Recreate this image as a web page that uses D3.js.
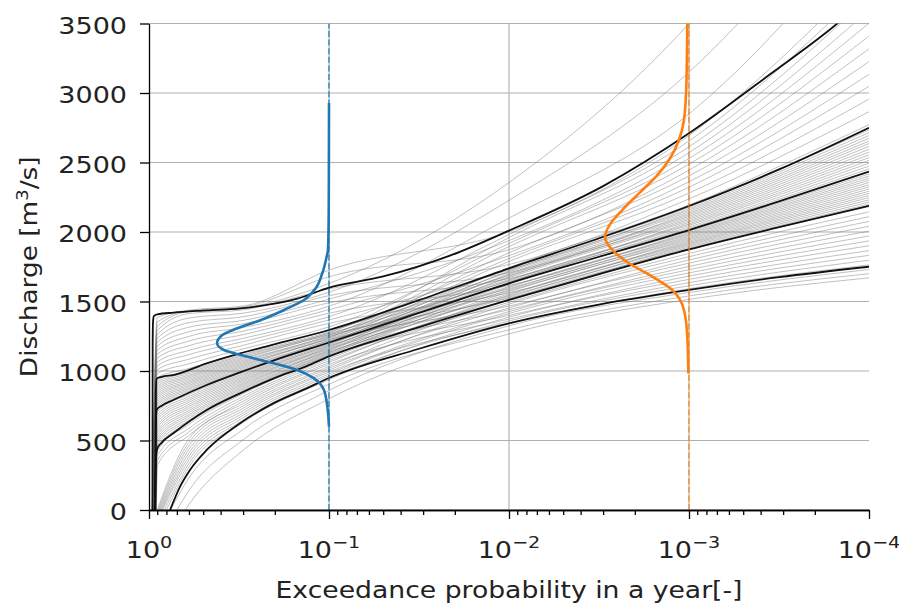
<!DOCTYPE html>
<html>
<head>
<meta charset="utf-8">
<script src="https://cdn.jsdelivr.net/npm/d3@7"></script>
<style>
  body { margin: 0; background: #fff; }
  text { font-family: "DejaVu Sans", sans-serif; fill: #222; }
</style>
</head>
<body>
<div id="chart"></div>
<script>
// axis ticks
const X_MAJOR = [1, 1e-1, 1e-2, 1e-3, 1e-4];
const X_EXP = ['0', '\u22121', '\u22122', '\u22123', '\u22124'];
const Y_TICKS = [0, 500, 1000, 1500, 2000, 2500, 3000, 3500];

// probabilities at which the gray curves were read
const P_GRID = [0.9, 0.6, 0.3, 0.1, 0.01, 0.001, 0.0001];
// probability where each gray curve leaves the zero line
const GRAY_START = [
  0.96, 0.959, 0.958, 0.958, 0.957, 0.956, 0.956, 0.955, 0.954, 0.954, 0.953, 0.952, 0.952, 0.951, 0.95, 0.95,
  0.948, 0.947, 0.946, 0.945, 0.944, 0.943, 0.942, 0.941, 0.94, 0.94, 0.939, 0.938, 0.937, 0.936, 0.935, 0.934,
  0.933, 0.932, 0.931, 0.93, 0.929, 0.928, 0.927, 0.926, 0.925, 0.924, 0.923, 0.922, 0.921, 0.92, 0.919, 0.918,
  0.915, 0.912, 0.91, 0.9, 0.89, 0.88, 0.87, 0.86, 0.85, 0.84, 0.82, 0.8, 0.76, 0.7, 0.63
];
// discharge of each gray curve at P_GRID
const GRAY_Q = [
  [1384, 1438, 1467, 1726, 2002, 2694, 3866],
  [1352, 1433, 1460, 1678, 1873, 2445, 3318],
  [1320, 1428, 1454, 1630, 2356, 3500, 5200],
  [1290, 1413, 1440, 1591, 1766, 2238, 2865],
  [1262, 1381, 1416, 1567, 2228, 3150, 4600],
  [1234, 1348, 1390, 1542, 1707, 2135, 2654],
  [1206, 1315, 1364, 1517, 1938, 2571, 3594],
  [1178, 1282, 1339, 1491, 1665, 2069, 2535],
  [1149, 1249, 1313, 1466, 2100, 2850, 4200],
  [1121, 1215, 1287, 1441, 1830, 2361, 3134],
  [1093, 1182, 1261, 1416, 1616, 1996, 2403],
  [1064, 1149, 1235, 1391, 1982, 2655, 3778],
  [1037, 1118, 1211, 1367, 1727, 2168, 2715],
  [1009, 1085, 1185, 1343, 1562, 1934, 2293],
  [980, 1052, 1159, 1317, 1917, 2529, 3502],
  [952, 1018, 1133, 1292, 1686, 2102, 2595],
  [934, 1002, 1120, 1281, 1809, 2322, 3048],
  [920, 991, 1112, 1275, 1960, 2613, 3686],
  [906, 981, 1103, 1270, 1645, 2036, 2474],
  [892, 970, 1094, 1264, 1734, 2179, 2735],
  [879, 960, 1086, 1260, 1525, 1891, 2215],
  [865, 950, 1077, 1254, 1895, 2487, 3410],
  [851, 939, 1068, 1249, 1593, 1970, 2356],
  [837, 928, 1060, 1244, 1713, 2146, 2674],
  [823, 918, 1051, 1238, 1851, 2403, 3226],
  [809, 908, 1042, 1233, 1658, 2058, 2515],
  [795, 897, 1034, 1227, 1467, 1799, 2076],
  [780, 887, 1025, 1222, 1788, 2280, 2956],
  [767, 876, 1016, 1217, 1631, 2014, 2434],
  [753, 866, 1008, 1211, 1693, 2113, 2616],
  [739, 856, 999, 1206, 1744, 2194, 2772],
  [725, 845, 990, 1200, 1578, 1952, 2325],
  [706, 831, 980, 1194, 1672, 2080, 2555],
  [687, 816, 971, 1188, 1720, 2157, 2694],
  [669, 802, 961, 1182, 1540, 1909, 2247],
  [651, 788, 952, 1176, 1652, 2048, 2495],
  [632, 774, 942, 1170, 1700, 2124, 2636],
  [613, 759, 933, 1164, 1608, 1987, 2387],
  [595, 745, 923, 1158, 1509, 1873, 2184],
  [576, 731, 913, 1152, 1679, 2091, 2575],
  [557, 716, 904, 1146, 1638, 2025, 2454],
  [539, 702, 894, 1140, 1441, 1752, 2006],
  [520, 687, 884, 1134, 1585, 1961, 2340],
  [502, 674, 875, 1129, 1623, 2005, 2418],
  [484, 659, 865, 1122, 1555, 1925, 2278],
  [465, 645, 856, 1116, 1601, 1979, 2372],
  [446, 630, 846, 1110, 1400, 1683, 1901],
  [423, 616, 836, 1104, 1570, 1943, 2309],
  [389, 588, 817, 1088, 1532, 1900, 2231],
  [354, 562, 800, 1074, 1494, 1846, 2145],
  [320, 537, 783, 1061, 1547, 1917, 2262],
  [null, 513, 766, 1047, 1373, 1636, 1832],
  [null, 487, 749, 1033, 1517, 1882, 2200],
  [null, 462, 732, 1020, 1454, 1776, 2041],
  [null, 436, 715, 1006, 1481, 1822, 2110],
  [null, 410, 698, 993, 1346, 1592, 1763],
  [null, 386, 681, 979, 1427, 1729, 1971],
  [null, 360, 664, 966, 1414, 1706, 1936],
  [null, 334, 647, 952, 1360, 1613, 1797],
  [null, 310, 630, 938, 1387, 1659, 1866],
  [null, 230, 580, 905, 1296, 1540, 1700],
  [null, 140, 505, 860, 1325, 1565, 1730],
  [null, 40, 430, 800, 1267, 1515, 1670]
];

// black percentile curves: [probability, discharge]
const BLACK_1 = [[0.957, 0], [0.954, 1200], [0.95, 1350], [0.94, 1395], [0.9, 1408], [0.73, 1420], [0.5, 1435],
  [0.31, 1451], [0.15, 1520], [0.1, 1600], [0.05, 1680], [0.0213, 1830], [0.01, 2010], [0.003, 2330],
  [0.001, 2710], [0.00035, 3140], [0.00015, 3500], [0.0001, 3700]];
const BLACK_2 = [[0.928, 0], [0.916, 860], [0.906, 945], [0.85, 958], [0.733, 971], [0.478, 1055], [0.312, 1127],
  [0.204, 1190], [0.1, 1295], [0.0316, 1510], [0.01, 1739], [0.00316, 1955], [0.001, 2187], [0.000316, 2450], [0.0001, 2750]];
const BLACK_3 = [[0.925, 0], [0.913, 680], [0.904, 722], [0.85, 750], [0.733, 791], [0.478, 899], [0.312, 990],
  [0.204, 1075], [0.1, 1205], [0.0316, 1418], [0.01, 1631], [0.00316, 1822], [0.001, 2014], [0.000316, 2220], [0.0001, 2434]];
const BLACK_4 = [[0.922, 0], [0.912, 400], [0.9, 440], [0.85, 485], [0.733, 552], [0.478, 719], [0.312, 839],
  [0.204, 945], [0.133, 1035], [0.1, 1105], [0.0316, 1315], [0.01, 1511], [0.00316, 1697], [0.001, 1875], [0.000316, 2035], [0.0001, 2189]];
const BLACK_5 = [[0.764, 0], [0.672, 168], [0.592, 288], [0.478, 432], [0.312, 624], [0.204, 767], [0.133, 875],
  [0.1, 950], [0.0316, 1160], [0.01, 1343], [0.00316, 1478], [0.001, 1583], [0.000316, 1675], [0.0001, 1750]];

// sideways densities of discharge at p = 0.1 and p = 0.001
const BLUE_BASE = 0.1, BLUE_WIDTH = 0.622;   // width in decades at peak
const BLUE_Q = [600, 743, 863, 947, 1007, 1067, 1115, 1151, 1199, 1259, 1307, 1367, 1439, 1511, 1595, 1703, 1823, 1871, 2100, 2500, 2928];
const BLUE_D = [0, 0.015, 0.045, 0.134, 0.283, 0.551, 0.786, 0.938, 1, 0.953, 0.819, 0.607, 0.402, 0.223, 0.119, 0.06, 0.021, 0.009, 0.003, 0.001, 0];
const ORANGE_BASE = 0.001, ORANGE_WIDTH = 0.467;
const ORANGE_Q = [983, 1247, 1439, 1583, 1679, 1775, 1871, 1966, 2062, 2158, 2278, 2398, 2518, 2662, 2806, 3045, 3500, 3700];
const ORANGE_D = [0.008, 0.02, 0.06, 0.2, 0.437, 0.714, 0.913, 1, 0.932, 0.794, 0.595, 0.393, 0.238, 0.119, 0.06, 0.032, 0.02, 0.015];

const W = 899, H = 604;
const margin = { top: 23.5, right: 30, bottom: 94, left: 149 };
const TEXT_STRETCH = 1.2;   // text in the picture is wider than plain DejaVu

const svg = d3.select('#chart').append('svg').attr('width', W).attr('height', H);

const x = d3.scaleLog().domain([1, 1e-4]).range([margin.left, W - margin.right]);
const y = d3.scaleLinear().domain([0, 3500]).range([H - margin.bottom, margin.top]);

svg.append('defs').append('clipPath').attr('id', 'plot')
  .append('rect')
  .attr('x', x(1)).attr('y', y(3500))
  .attr('width', x(1e-4) - x(1)).attr('height', y(0) - y(3500));

// grid
const grid = svg.append('g').attr('stroke', '#b0b0b0').attr('stroke-width', 1.1);
grid.selectAll('.gx').data(X_MAJOR.slice(1, -1)).join('line')
  .attr('x1', d => x(d)).attr('x2', d => x(d))
  .attr('y1', y(0)).attr('y2', y(3500));
grid.selectAll('.gy').data(Y_TICKS).join('line')
  .attr('x1', x(1)).attr('x2', x(1e-4))
  .attr('y1', d => y(d)).attr('y2', d => y(d));

const plot = svg.append('g').attr('clip-path', 'url(#plot)');

const line = d3.line()
  .x(d => x(d[0]))
  .y(d => y(d[1]))
  .curve(d3.curveMonotoneX);

// gray curves
const grayCurves = GRAY_Q.map((row, i) => {
  const p0 = GRAY_START[i];
  const pts = [[p0, 0]];
  P_GRID.forEach((p, j) => { if (row[j] !== null && p < p0) pts.push([p, row[j]]); });
  return pts;
});
plot.append('g').selectAll('path').data(grayCurves).join('path')
  .attr('d', line)
  .attr('fill', 'none')
  .attr('stroke', '#6e6e6e')
  .attr('stroke-opacity', 0.45)
  .attr('stroke-width', 0.95);

// black curves
plot.append('g').selectAll('path').data([BLACK_1, BLACK_2, BLACK_3, BLACK_4, BLACK_5]).join('path')
  .attr('d', line)
  .attr('fill', 'none')
  .attr('stroke', '#111')
  .attr('stroke-width', 1.8);

// densities
const densLine = d3.line()
  .x(d => x(d.p))
  .y(d => y(d.q))
  .curve(d3.curveMonotoneY);

function drawDensity(base, width, qs, ds, color) {
  plot.append('line')
    .attr('x1', x(base)).attr('x2', x(base))
    .attr('y1', y(0)).attr('y2', y(3500))
    .attr('stroke', color).attr('stroke-width', 1.2)
    .attr('stroke-dasharray', '6,2.6');
  const pts = qs.map((q, i) => ({ q: q, p: base * Math.pow(10, ds[i] * width) }));
  plot.append('path')
    .datum(pts)
    .attr('d', densLine)
    .attr('fill', 'none')
    .attr('stroke', color)
    .attr('stroke-width', 2.6)
    .attr('stroke-linejoin', 'round');
}
drawDensity(BLUE_BASE, BLUE_WIDTH, BLUE_Q, BLUE_D, '#1f77b4');
drawDensity(ORANGE_BASE, ORANGE_WIDTH, ORANGE_Q, ORANGE_D, '#ff7f0e');

// axes
const yAxis = svg.append('g')
  .attr('transform', `translate(${x(1)},0)`)
  .call(d3.axisLeft(y).tickValues(Y_TICKS).tickSize(9).tickSizeOuter(0).tickPadding(13).tickFormat(d3.format('d')));
yAxis.selectAll('text')
  .attr('font-size', 22.5)
  .attr('dy', '0.44em')
  .attr('x', -22 / TEXT_STRETCH)
  .attr('transform', `scale(${TEXT_STRETCH},1)`);

const minor = [];
X_MAJOR.slice(0, -1).forEach(d => { for (let k = 2; k <= 9; k++) minor.push(d * k / 10); });
svg.append('g')
  .attr('transform', `translate(0,${y(0)})`)
  .call(d3.axisBottom(x).tickValues(minor).tickSize(5).tickSizeOuter(0).tickFormat(''));
svg.append('g')
  .attr('transform', `translate(0,${y(0)})`)
  .call(d3.axisBottom(x).tickValues(X_MAJOR).tickSize(9).tickSizeOuter(0).tickFormat(''));

svg.selectAll('.domain, .tick line').attr('stroke', '#000').attr('stroke-width', 1.3);
svg.selectAll('.tick text').attr('fill', '#222').attr('font-family', '"DejaVu Sans", sans-serif');

const xl = svg.append('g').selectAll('text').data(X_MAJOR).join('text')
  .attr('transform', d => `translate(${x(d)},558) scale(${TEXT_STRETCH},1)`)
  .attr('text-anchor', 'middle')
  .attr('font-size', 22.5);
xl.append('tspan').text('10');
xl.append('tspan').attr('dy', -10).attr('font-size', 16).text((d, i) => X_EXP[i]);

// stretch a label so it spans the same length as in the picture
function fitLength(sel, target) {
  const w = sel.node().getComputedTextLength();
  return target / w;
}

// axis labels
const xLabel = svg.append('text')
  .attr('text-anchor', 'middle')
  .attr('font-size', 23.5)
  .text('Exceedance probability in a year[-]');
const sx = fitLength(xLabel, 467);
xLabel.attr('transform', `translate(${(x(1) + x(1e-4)) / 2},598) scale(${sx},1)`);

const yLabel = svg.append('text')
  .attr('text-anchor', 'middle')
  .attr('font-size', 23.5);
yLabel.append('tspan').text('Discharge [m');
yLabel.append('tspan').attr('dy', -9).attr('font-size', 16).text('3');
yLabel.append('tspan').attr('dy', 9).text('/s]');
const sy = fitLength(yLabel, 221);
yLabel.attr('transform', `translate(37,${(y(0) + y(3500)) / 2}) rotate(-90) scale(${sy},1)`);
</script>
</body>
</html>
